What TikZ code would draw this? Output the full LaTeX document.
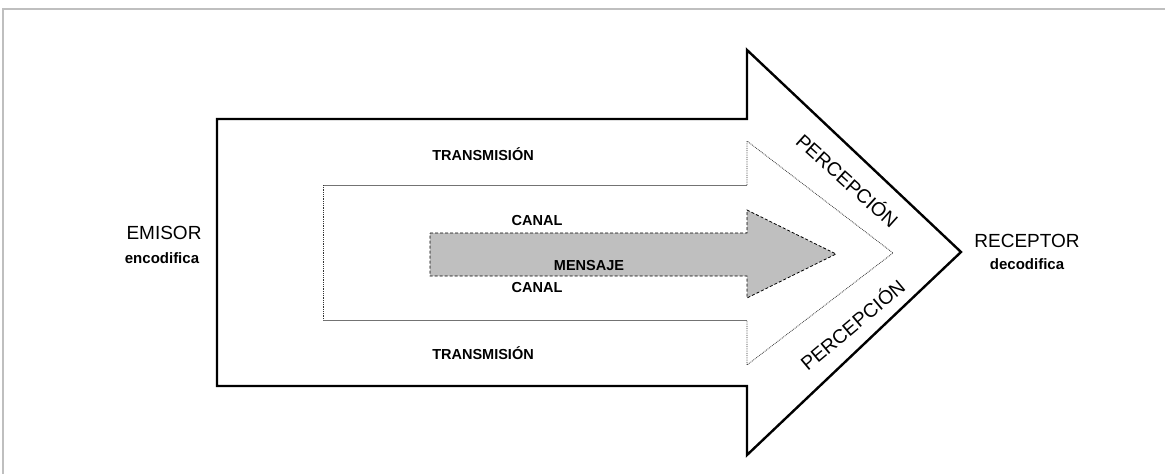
\documentclass[tikz,border=0pt]{standalone}
\usepackage{fontspec}
\setmainfont{Liberation Sans}
\begin{document}
\begin{tikzpicture}[x=1pt,y=-1pt,
  lbl/.style={inner sep=0pt,font=\fontsize{19}{21}\selectfont},
  sub/.style={inner sep=0pt,font=\fontsize{15}{17}\selectfont\bfseries},
  bl/.style={inner sep=0pt,font=\fontsize{14.5}{17}\selectfont\bfseries},
  perc/.style={inner sep=0pt,font=\fontsize{19.5}{22}\selectfont},
  outerarrow/.style={draw=black,line width=2.4pt,line join=miter},
  midsolid/.style={draw=black!55,line width=0.9pt},
  middot/.style={draw=black!80,line width=0.8pt,densely dotted},
  innerarrow/.style={draw=black,fill=black!25,line width=0.8pt,densely dashed}]
\useasboundingbox (0,0) rectangle (1165,474);
\draw[black!25,line width=1.2pt] (3,474) -- (3,9) -- (1165,9);
% outer arrow
\draw[outerarrow] (217,119) -- (747,119) -- (747,50) -- (961,252) -- (747,455) -- (747,386) -- (217,386) -- cycle;
% middle arrow
\draw[midsolid] (323,185) -- (747,185);
\draw[midsolid] (323,320) -- (747,320);
\draw[middot] (747,185) -- (747,141) -- (893,253) -- (747,365) -- (747,320);
\draw[middot] (323,185) -- (323,320);
% inner arrow
\draw[innerarrow] (430,233) -- (747,233) -- (747,210) -- (836,254) -- (747,298) -- (747,276) -- (430,276) -- cycle;
% labels
\node[lbl] (emisor) at (164,233) {EMISOR};
\node[sub] (enc) at (162,258) {encodifica};
\node[lbl] (receptor) at (1027,241) {RECEPTOR};
\node[sub] (dec) at (1027,264) {decodifica};
\node[bl] (trans1) at (483,154) {TRANSMISIÓN};
\node[bl] (trans2) at (483,353) {TRANSMISIÓN};
\node[bl] (canal1) at (537,221) {CANAL};
\node[bl] (canal2) at (537,288) {CANAL};
\node[bl] (mensaje) at (589,266) {MENSAJE};
\node[perc,rotate=-42] (perc1) at (848,180) {PERCEPCIÓN};
\node[perc,rotate=40] (perc2) at (852,324) {PERCEPCIÓN};
\end{tikzpicture}
\end{document}
